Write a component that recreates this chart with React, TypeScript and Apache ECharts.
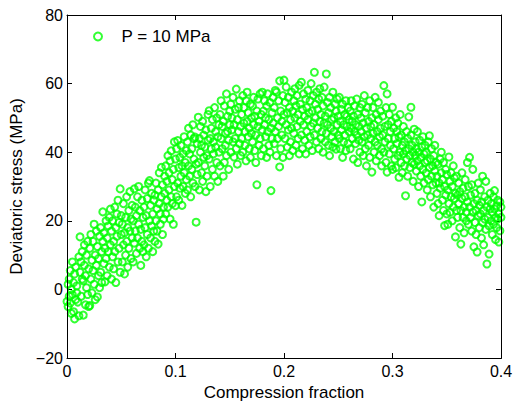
import React, { useEffect, useRef } from "react";
import * as echarts from "echarts";

const seriesName = "P = 10 MPa";
const xLabel = "Compression fraction";
const yLabel = "Deviatoric stress (MPa)";
const xRange = [0, 0.4];
const yRange = [-20, 80];

// compression fraction 0.00 - 0.10
const rising: number[][] = [
  [0.001,-5],[0.002,-2],[0.002,3],[0.003,5.5],[0.004,0],[0.004,-7],[0.005,8],[0.006,-6.5],[0.006,2],[0.007,-8.6],[0.007,4.5],[0.008,-3],[0.008,6.5],[0.009,1],[0.009,-1],[0.0,-3.5],[0.001,1.5],[0.003,-4],[0.005,-1.5],[0.01,-3.7],
  [0.011,-7.7],[0.012,15.3],[0.012,5],[0.013,8],[0.013,-2],[0.014,11],[0.015,-7.5],[0.015,2.5],[0.016,7],[0.016,13],[0.017,-4.5],[0.017,4],[0.018,10],[0.018,0.5],[0.019,-1.5],[0.019,14],[0.02,6],[0.02,-5],[0.014,3],[0.011,9.5],
  [0.021,-4.7],[0.021,12],[0.022,3],[0.022,16],[0.023,8.5],[0.023,-1],[0.024,5.5],[0.024,14],[0.025,19],[0.025,1.5],[0.026,10],[0.026,-3],[0.027,7],[0.027,17],[0.028,12.5],[0.028,-2.2],[0.029,4],[0.029,9],[0.03,15.5],[0.03,0.5],
  [0.031,5],[0.031,18],[0.032,11],[0.032,2],[0.033,22.6],[0.033,14],[0.034,7.5],[0.034,16.5],[0.035,2.2],[0.035,12],[0.036,20],[0.036,9],[0.037,4],[0.037,15],[0.038,18.5],[0.038,11],[0.039,6.5],[0.039,21],[0.04,23.4],[0.04,13],
  [0.041,3],[0.041,17],[0.042,9.5],[0.042,20],[0.043,14],[0.043,6],[0.044,24],[0.044,11],[0.045,18],[0.045,2],[0.046,15.5],[0.046,22],[0.047,8],[0.047,26],[0.048,12],[0.048,19.5],[0.049,29.3],[0.049,5],[0.05,16],[0.05,21.5],
  [0.051,8],[0.051,19],[0.052,13],[0.052,25],[0.053,4.5],[0.053,16.5],[0.054,21],[0.054,10],[0.055,27],[0.055,14],[0.056,18],[0.056,6.5],[0.057,23],[0.057,12],[0.058,17],[0.058,28.5],[0.059,9],[0.059,20.5],[0.06,15],[0.06,24.5],
  [0.061,8],[0.061,20],[0.062,29.3],[0.062,13.5],[0.063,17],[0.063,24],[0.064,10.5],[0.064,21.5],[0.065,15],[0.065,27],[0.066,30],[0.066,19],[0.067,12],[0.067,23],[0.068,7],[0.068,17.5],[0.069,26],[0.069,14],[0.07,21],[0.07,11],
  [0.071,24],[0.071,13],[0.072,18],[0.072,29],[0.073,9.5],[0.073,21.5],[0.074,16],[0.074,26.5],[0.075,31],[0.075,12],[0.076,31.7],[0.076,20],[0.077,15],[0.077,24.5],[0.078,18.5],[0.078,28],[0.079,11],[0.079,22],[0.08,26],[0.08,17],
  [0.081,14],[0.081,27.5],[0.082,20],[0.082,31],[0.083,23.5],[0.083,17],[0.084,13.2],[0.084,29],[0.085,25],[0.085,34],[0.086,19],[0.086,22],[0.087,35.6],[0.087,27],[0.088,16],[0.088,30.5],[0.089,24],[0.089,20.5],[0.09,33],[0.09,28],
  [0.091,22],[0.091,36],[0.092,26],[0.092,31.5],[0.093,39],[0.093,24],[0.094,29],[0.094,34],[0.095,20.5],[0.095,37.5],[0.096,40.4],[0.096,27],[0.097,32],[0.097,25],[0.098,19],[0.098,35],[0.099,43],[0.099,30],[0.1,24.4],[0.1,38],
];

// compression fraction 0.10 - 0.20
const climbing: number[][] = [
  [0.101,27],[0.101,41],[0.102,43.4],[0.102,31],[0.103,35.5],[0.103,26],[0.104,38.5],[0.104,29.5],[0.105,33],[0.105,42],[0.106,36],[0.106,24.5],[0.107,30],[0.107,39.5],[0.108,44.5],[0.108,34],[0.109,28],[0.109,37],[0.11,32],[0.11,40.5],
  [0.111,29],[0.111,43],[0.112,36],[0.112,47],[0.113,33],[0.113,39.5],[0.114,27],[0.114,45],[0.115,41],[0.115,35],[0.116,31],[0.116,48],[0.117,38],[0.117,44],[0.118,44.4],[0.118,30],[0.119,19.6],[0.119,36.5],[0.12,42.5],[0.12,33.5],
  [0.121,50.2],[0.121,37],[0.122,29],[0.122,44],[0.123,40],[0.123,47.5],[0.124,34],[0.124,42],[0.125,31.5],[0.125,49],[0.126,38.5],[0.126,45],[0.127,36],[0.127,41.5],[0.128,28.5],[0.128,46.5],[0.129,39],[0.129,33],[0.13,43.5],[0.13,51],
  [0.131,52.1],[0.131,38],[0.132,44],[0.132,30],[0.133,47],[0.133,41],[0.134,35],[0.134,49.5],[0.135,43],[0.135,39.5],[0.136,53],[0.136,33],[0.137,46],[0.137,41.5],[0.138,37],[0.138,50],[0.139,44.5],[0.139,31.5],[0.14,48],[0.14,40],
  [0.141,36],[0.141,51],[0.142,44],[0.142,55],[0.143,41],[0.143,47.5],[0.144,33],[0.144,49],[0.145,37],[0.145,53.5],[0.146,45.5],[0.146,42],[0.147,57],[0.147,39],[0.148,50.5],[0.148,46],[0.149,35],[0.149,43.5],[0.15,52],[0.15,48],
  [0.151,40],[0.151,54],[0.152,46.5],[0.152,50],[0.153,43],[0.153,56],[0.154,38.6],[0.154,48],[0.155,52.5],[0.155,44],[0.156,58.4],[0.156,41],[0.157,49.5],[0.157,36.5],[0.158,53],[0.158,46],[0.159,42.5],[0.159,55],[0.16,47.5],[0.16,39],
  [0.161,51],[0.161,44],[0.162,56.5],[0.162,40],[0.163,48.5],[0.163,53],[0.164,42],[0.164,46],[0.165,55],[0.165,37.5],[0.166,57.5],[0.166,49],[0.167,44.5],[0.167,51.5],[0.168,41],[0.168,47],[0.169,54],[0.169,38.5],[0.17,50],[0.17,45.5],
  [0.171,43],[0.171,53.5],[0.172,48],[0.172,56],[0.173,40.5],[0.173,50.5],[0.174,37],[0.174,45],[0.175,30.5],[0.175,52],[0.176,47.5],[0.176,55.5],[0.177,42],[0.177,49],[0.178,57],[0.178,44],[0.179,51],[0.179,39],[0.18,57.5],[0.18,46.5],
  [0.181,41],[0.181,52],[0.182,48],[0.182,55],[0.183,44.5],[0.183,50],[0.184,38.5],[0.184,53.5],[0.185,46],[0.185,57],[0.186,42],[0.186,49.5],[0.187,54.5],[0.187,40],[0.188,28.8],[0.188,47],[0.189,51.5],[0.189,44],[0.19,56],[0.19,48.5],
  [0.191,42.5],[0.191,53],[0.192,46],[0.192,58],[0.193,57.5],[0.193,39],[0.194,50],[0.194,44],[0.195,55],[0.195,47.5],[0.196,60.8],[0.196,35.7],[0.197,41],[0.197,52],[0.198,49],[0.198,45],[0.199,56.5],[0.199,38.5],[0.2,61],[0.2,51],
];

// compression fraction 0.20 - 0.30
const plateau: number[][] = [
  [0.201,44],[0.201,54.5],[0.202,48],[0.202,59],[0.203,41.5],[0.203,51.5],[0.204,46.5],[0.204,56],[0.205,39],[0.205,53],[0.206,49.5],[0.206,43],[0.207,57.5],[0.207,47],[0.208,52],[0.208,40.5],[0.209,55],[0.209,45.5],[0.21,50],[0.21,58.5],
  [0.211,42],[0.211,53.5],[0.212,47.5],[0.212,56.5],[0.213,44],[0.213,51],[0.214,59.5],[0.214,39.5],[0.215,49],[0.215,54],[0.216,60.4],[0.216,45],[0.217,41],[0.217,52.5],[0.218,48],[0.218,57],[0.219,43.5],[0.219,50.5],[0.22,39.5],[0.22,55.5],
  [0.221,46],[0.221,53],[0.222,49.5],[0.222,58],[0.223,42],[0.223,51.5],[0.224,55],[0.224,44.5],[0.225,47.5],[0.225,60],[0.226,40.5],[0.226,52],[0.227,56.5],[0.227,48.5],[0.228,63.3],[0.228,45],[0.229,50],[0.229,54],[0.23,43],[0.23,57.5],
  [0.231,47],[0.231,52.5],[0.232,41],[0.232,55.5],[0.233,49],[0.233,58.5],[0.234,44],[0.234,51],[0.235,46],[0.235,56],[0.236,40],[0.236,53.5],[0.237,48.5],[0.237,59],[0.238,43],[0.238,50.5],[0.239,62.8],[0.239,45.5],[0.24,54.5],[0.24,48],
  [0.241,42],[0.241,51.5],[0.242,39],[0.242,56],[0.243,47],[0.243,53],[0.244,44.5],[0.244,49.5],[0.245,57.5],[0.245,41.5],[0.246,50],[0.246,46],[0.247,54],[0.247,43],[0.248,40.9],[0.248,52],[0.249,48],[0.249,55.5],[0.25,45],[0.25,50.5],
  [0.251,56],[0.251,44],[0.252,49],[0.252,41],[0.253,52.5],[0.253,46.5],[0.254,38.5],[0.254,54],[0.255,48],[0.255,43],[0.256,51],[0.256,45],[0.257,55],[0.257,40.5],[0.258,47.5],[0.258,50.5],[0.259,42.5],[0.259,53],[0.26,46],[0.26,49.5],
  [0.261,41],[0.261,52],[0.262,47],[0.262,55],[0.263,44],[0.263,49],[0.264,38],[0.264,50.5],[0.265,46],[0.265,53.5],[0.266,42.5],[0.266,48],[0.267,55.5],[0.267,45],[0.268,37],[0.268,51],[0.269,43.5],[0.269,47.5],[0.27,53],[0.27,40],
  [0.271,46],[0.271,50],[0.272,43],[0.272,54],[0.273,39],[0.273,48.5],[0.274,56.5],[0.274,44.5],[0.275,51.5],[0.275,41],[0.276,47],[0.276,36],[0.277,53],[0.277,45],[0.278,49],[0.278,42],[0.279,55],[0.279,38.5],[0.28,47.5],[0.28,44],
  [0.281,34.2],[0.281,50],[0.282,45.5],[0.282,53],[0.283,40],[0.283,48],[0.284,43],[0.284,56],[0.285,37.5],[0.285,51],[0.286,46],[0.286,42],[0.287,49.5],[0.287,54.5],[0.288,39],[0.288,44.5],[0.289,47],[0.289,52],[0.29,41],[0.29,36],
  [0.291,45],[0.291,50.5],[0.292,59.4],[0.292,40],[0.293,47.5],[0.293,43],[0.294,53],[0.294,37],[0.295,57],[0.295,34.2],[0.296,48],[0.296,44],[0.297,51],[0.297,39.5],[0.298,46],[0.298,42],[0.299,49],[0.299,36],[0.3,53.1],[0.3,35],
];

// compression fraction 0.30 - 0.40
const softening: number[][] = [
  [0.301,41],[0.301,47],[0.302,44],[0.302,38],[0.303,50],[0.303,35.5],[0.304,42.5],[0.304,46],[0.305,39],[0.305,48.5],[0.306,32.7],[0.306,44.5],[0.307,40],[0.307,51],[0.308,37],[0.308,45],[0.309,42],[0.309,34],[0.31,47.5],[0.31,39.5],
  [0.311,43],[0.311,36],[0.312,27.3],[0.312,40.5],[0.313,46],[0.313,38],[0.314,33],[0.314,44],[0.315,50.3],[0.315,41],[0.316,35.5],[0.316,39],[0.317,53.1],[0.317,45],[0.318,37],[0.318,42],[0.319,31.5],[0.319,40],[0.32,46.7],[0.32,36.5],
  [0.321,39],[0.321,43],[0.322,34.5],[0.322,41],[0.323,37.5],[0.323,46],[0.324,30],[0.324,40],[0.325,36],[0.325,43.5],[0.326,33],[0.326,38.5],[0.327,25.5],[0.327,41.5],[0.328,35],[0.328,44.5],[0.329,39.5],[0.329,31],[0.33,37],[0.33,42],
  [0.331,34],[0.331,40],[0.332,29],[0.332,37.5],[0.333,43],[0.333,32],[0.334,44.8],[0.334,35.5],[0.335,38],[0.335,27],[0.336,41],[0.336,33],[0.337,36],[0.337,30.5],[0.338,39],[0.338,24],[0.339,34.5],[0.339,42],[0.34,31],[0.34,37],
  [0.341,33],[0.341,28],[0.342,36.5],[0.342,25],[0.343,21.5],[0.343,31],[0.344,38],[0.344,29.5],[0.345,40],[0.345,34],[0.346,26],[0.346,32],[0.347,23],[0.347,37],[0.348,18.6],[0.348,30],[0.349,35],[0.349,27.5],[0.35,33.5],[0.35,22],
  [0.351,29],[0.351,19],[0.352,38.6],[0.352,25],[0.353,31.5],[0.353,22.5],[0.354,34],[0.354,27],[0.355,20],[0.355,30],[0.356,36],[0.356,24],[0.357,26.5],[0.357,32.5],[0.358,15.3],[0.358,28],[0.359,23],[0.359,33],[0.36,21],[0.36,27.5],
  [0.361,25],[0.361,31],[0.362,18],[0.362,28.5],[0.363,13.2],[0.363,23],[0.364,34],[0.364,26.5],[0.365,21],[0.365,29.5],[0.366,24],[0.366,16.5],[0.367,32],[0.367,27],[0.368,20],[0.368,22.5],[0.369,37],[0.369,25.5],[0.37,19],[0.37,30],
  [0.371,38.5],[0.371,24],[0.372,21],[0.372,27.5],[0.373,17],[0.373,30.5],[0.374,22.5],[0.374,35],[0.375,12.4],[0.375,25],[0.376,19.5],[0.376,28],[0.377,23],[0.377,16],[0.378,10.9],[0.378,26],[0.379,21.5],[0.379,31],[0.38,18],[0.38,24.5],
  [0.381,22],[0.381,29],[0.382,15],[0.382,25.5],[0.383,19.5],[0.383,33],[0.384,23],[0.384,13],[0.385,27],[0.385,20.5],[0.386,31.5],[0.386,17.5],[0.387,7.4],[0.387,24],[0.388,21],[0.388,26],[0.389,10.3],[0.389,18.5],[0.39,23.5],[0.39,28],
  [0.391,20],[0.391,25],[0.392,16],[0.392,22.5],[0.393,27],[0.393,19],[0.394,28.8],[0.394,23.5],[0.395,14.5],[0.395,21],[0.396,24.4],[0.396,18],[0.397,26],[0.397,20.5],[0.398,13.8],[0.398,22],[0.399,25.5],[0.399,17.1],[0.4,21],[0.4,24],
];

const FONT = "'Liberation Sans', Arial, Helvetica, sans-serif";
const GREEN = "#00ff00";
const INK = "#000000";

function axisParts() {
  return {
    axisLine: { show: true, onZero: false, lineStyle: { color: INK, width: 1 } },
    axisTick: { show: true, inside: true, length: 5, lineStyle: { color: INK, width: 1 } },
    splitLine: { show: false },
  };
}

export default function App() {
  const ref = useRef<HTMLDivElement>(null);
  useEffect(() => {
    if (!ref.current) return;
    const chart = echarts.init(ref.current, undefined, { renderer: "svg" });
    const data = [...rising, ...climbing, ...plateau, ...softening];
    const minus = (v: number) => String(v).replace("-", "\u2212");
    chart.setOption({
      animation: false,
      backgroundColor: "#fff",
      grid: { left: 67, right: 12, top: 15, bottom: 44, outerBoundsMode: "none" },
      legend: {
        left: 88,
        top: 23,
        itemWidth: 37,
        itemHeight: 8,
        textStyle: { fontSize: 17, color: "#000", fontFamily: FONT },
        data: [
          {
            name: seriesName,
            icon: "circle",
            itemStyle: { color: "transparent", borderColor: GREEN, borderWidth: 2 },
          },
        ],
      },
      xAxis: [
        {
          type: "value", min: xRange[0], max: xRange[1], interval: 0.1, position: "bottom",
          name: xLabel, nameLocation: "middle", nameGap: 22,
          nameTextStyle: { fontSize: 17, color: "#000", fontFamily: FONT },
          axisLabel: { fontSize: 16, color: "#000", margin: 5, fontFamily: FONT },
          ...axisParts(),
        },
        {
          type: "value", min: xRange[0], max: xRange[1], interval: 0.1, position: "top",
          axisLabel: { show: false },
          ...axisParts(),
        },
      ],
      yAxis: [
        {
          type: "value", min: yRange[0], max: yRange[1], interval: 20, position: "left",
          name: yLabel, nameLocation: "middle", nameGap: 39,
          nameTextStyle: { fontSize: 17, color: "#000", fontFamily: FONT },
          axisLabel: { fontSize: 16, color: "#000", margin: 4, fontFamily: FONT, formatter: minus },
          ...axisParts(),
        },
        {
          type: "value", min: yRange[0], max: yRange[1], interval: 20, position: "right",
          axisLabel: { show: false },
          ...axisParts(),
        },
      ],
      series: [
        {
          name: seriesName,
          type: "scatter",
          data,
          symbol: "circle",
          symbolSize: 7,
          itemStyle: { color: "transparent", borderColor: GREEN, borderWidth: 2 },
        },
      ],
    });
    // frame box from the axes' own scales
    const tl = chart.convertToPixel({ gridIndex: 0 }, [xRange[0], yRange[1]]) as number[];
    const br = chart.convertToPixel({ gridIndex: 0 }, [xRange[1], yRange[0]]) as number[];
    if (tl && br) {
      chart.setOption({
        graphic: [
          {
            type: "rect",
            z: 100,
            silent: true,
            shape: { x: Math.round(tl[0]) + 0.5, y: Math.round(tl[1]) + 0.5, width: Math.round(br[0] - tl[0]), height: Math.round(br[1] - tl[1]) },
            style: { fill: "none", stroke: "#000", lineWidth: 1 },
          },
        ],
      });
    }
    return () => chart.dispose();
  }, []);
  return <div ref={ref} style={{ position: "fixed", left: 0, top: 0, width: 513, height: 402 }} />;
}
